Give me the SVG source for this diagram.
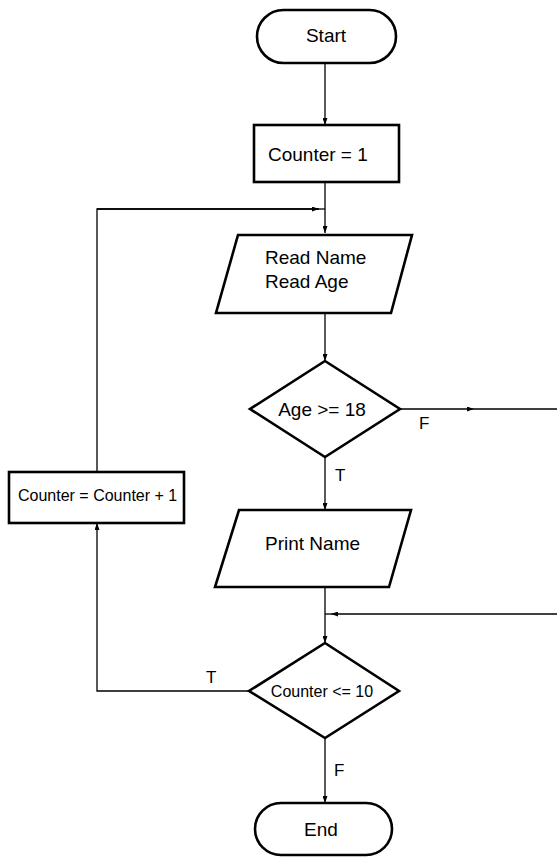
<svg xmlns="http://www.w3.org/2000/svg" width="557" height="857" viewBox="0 0 557 857">
  <style>
    .shape { fill: #fff; stroke: #000; stroke-width: 2.6; stroke-linejoin: miter; }
    .conn { fill: none; stroke: #000; stroke-width: 1.3; }
    .t { font-family: "Liberation Sans", Arial, sans-serif; fill: #000; }
    .big { font-size: 19px; }
    .small { font-size: 16px; }
    .lbl { font-size: 17px; }
  </style>
  <defs>
    <marker id="arrow" viewBox="0 0 7 5" refX="7" refY="2.5" markerWidth="7" markerHeight="5" markerUnits="userSpaceOnUse" orient="auto">
      <path d="M0,0 L7,2.5 L0,5 Z" fill="#000"/>
    </marker>
  </defs>

  <!-- connectors -->
  <g id="connectors">
    <path class="conn" d="M325,63 V125" marker-end="url(#arrow)"/>
    <path class="conn" d="M325,182 V233" marker-end="url(#arrow)"/>
    <path class="conn" d="M97,472 V209 H319"/>
    <path class="conn" d="M97,209 H319" marker-end="url(#arrow)"/>
    <path class="conn" d="M319,209 H325"/>
    <path class="conn" d="M325,313 V361" marker-end="url(#arrow)"/>
    <path class="conn" d="M400,409 H474" marker-end="url(#arrow)"/>
    <path class="conn" d="M474,409 H557"/>
    <path class="conn" d="M325,457 V510" marker-end="url(#arrow)"/>
    <path class="conn" d="M325,587 V643" marker-end="url(#arrow)"/>
    <path class="conn" d="M557,614 H331" marker-end="url(#arrow)"/>
    <path class="conn" d="M331,614 H325"/>
    <path class="conn" d="M249,691 H97 V523" marker-end="url(#arrow)"/>
    <path class="conn" d="M325,738 V803" marker-end="url(#arrow)"/>
  </g>

  <!-- branch labels -->
  <g id="labels">
    <text class="t lbl" x="419" y="429">F</text>
    <text class="t lbl" x="335" y="481">T</text>
    <text class="t lbl" x="206" y="683">T</text>
    <text class="t lbl" x="334" y="776">F</text>
  </g>

  <g id="start">
    <rect class="shape" x="257" y="10" width="139" height="53" rx="26.5" ry="26.5"/>
    <text class="t big" x="326" y="42" text-anchor="middle">Start</text>
  </g>

  <g id="init">
    <rect class="shape" x="254" y="125" width="145" height="57"/>
    <text class="t big" x="268" y="161">Counter = 1</text>
  </g>

  <g id="read">
    <polygon class="shape" points="238,235 412,235 391,313 216,313"/>
    <text class="t big" x="265" y="264">Read Name</text>
    <text class="t big" x="265" y="288">Read Age</text>
  </g>

  <g id="age-check">
    <polygon class="shape" points="325,361 400,409 325,457 250,409"/>
    <text class="t big" x="322" y="416" text-anchor="middle">Age &gt;= 18</text>
  </g>

  <g id="print">
    <polygon class="shape" points="239,510 411,510 389,587 215,587"/>
    <text class="t big" x="265" y="550">Print Name</text>
  </g>

  <g id="counter-check">
    <polygon class="shape" points="325,643 399,691 325,738 249,691"/>
    <text class="t small" x="322" y="697" text-anchor="middle">Counter &lt;= 10</text>
  </g>

  <g id="increment">
    <rect class="shape" x="9" y="472" width="175" height="51"/>
    <text class="t small" x="18" y="501">Counter = Counter + 1</text>
  </g>

  <g id="end">
    <rect class="shape" x="255" y="803" width="137" height="52" rx="26" ry="26"/>
    <text class="t big" x="321" y="836" text-anchor="middle">End</text>
  </g>
</svg>
